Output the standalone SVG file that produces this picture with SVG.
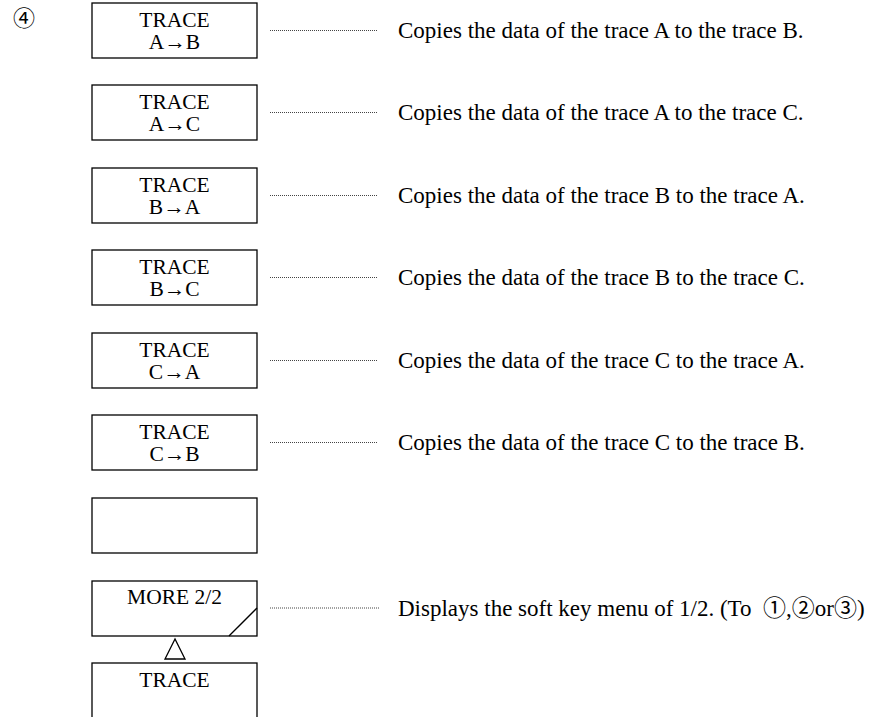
<svg xmlns="http://www.w3.org/2000/svg" width="869" height="717" viewBox="0 0 869 717">
<style>
.box{fill:#fff;stroke:#000;stroke-width:1.3}
.t{font-family:"Liberation Serif","Noto Sans CJK JP",serif;font-size:23px;fill:#000}
.k{font-family:"Liberation Serif","Noto Sans CJK JP",serif;font-size:21.5px;fill:#000;text-anchor:middle}
.dot{stroke:#444;stroke-width:1;stroke-dasharray:1 1;fill:none}
</style>
<rect width="869" height="717" fill="#fff"/>
<text id="label4" x="24" y="26" style="font-family:'Noto Sans CJK JP',sans-serif;font-size:22px;text-anchor:middle">④</text>
<g id="connectors">
<line class="dot" x1="270" y1="30.5" x2="378" y2="30.5"/>
<line class="dot" x1="270" y1="112.5" x2="378" y2="112.5"/>
<line class="dot" x1="270" y1="195.5" x2="378" y2="195.5"/>
<line class="dot" x1="270" y1="277.5" x2="378" y2="277.5"/>
<line class="dot" x1="270" y1="360.5" x2="378" y2="360.5"/>
<line class="dot" x1="270" y1="442.5" x2="378" y2="442.5"/>
<line class="dot" x1="270" y1="608" x2="380" y2="608"/>
</g>
<g id="key1"><rect class="box" x="92" y="3" width="165" height="55"/><text class="k" x="174.5" y="26.5">TRACE</text><text class="k" x="174.5" y="49">A→B</text></g>
<g id="key2"><rect class="box" x="92" y="85" width="165" height="55"/><text class="k" x="174.5" y="108.5">TRACE</text><text class="k" x="174.5" y="131">A→C</text></g>
<g id="key3"><rect class="box" x="92" y="168" width="165" height="55"/><text class="k" x="174.5" y="191.5">TRACE</text><text class="k" x="174.5" y="214">B→A</text></g>
<g id="key4"><rect class="box" x="92" y="250" width="165" height="55"/><text class="k" x="174.5" y="273.5">TRACE</text><text class="k" x="174.5" y="296">B→C</text></g>
<g id="key5"><rect class="box" x="92" y="333" width="165" height="55"/><text class="k" x="174.5" y="356.5">TRACE</text><text class="k" x="174.5" y="379">C→A</text></g>
<g id="key6"><rect class="box" x="92" y="415" width="165" height="55"/><text class="k" x="174.5" y="438.5">TRACE</text><text class="k" x="174.5" y="461">C→B</text></g>
<g id="key7"><rect class="box" x="92" y="498" width="165" height="55"/></g>
<g id="key8"><rect class="box" x="92" y="581" width="165" height="55"/><line x1="229" y1="636" x2="257" y2="608" stroke="#000" stroke-width="1.3"/><text class="k" x="174.5" y="604">MORE 2/2</text></g>
<g id="tri"><polygon points="175,639 165,659 185,659" fill="#fff" stroke="#000" stroke-width="1.3"/></g>
<g id="key9"><rect class="box" x="92" y="663" width="165" height="70"/><text class="k" x="174.5" y="687">TRACE</text></g>
<g id="descs">
<text class="t" x="398" y="38">Copies the data of the trace A to the trace B.</text>
<text class="t" x="398" y="120">Copies the data of the trace A to the trace C.</text>
<text class="t" x="398" y="203">Copies the data of the trace B to the trace A.</text>
<text class="t" x="398" y="285">Copies the data of the trace B to the trace C.</text>
<text class="t" x="398" y="368">Copies the data of the trace C to the trace A.</text>
<text class="t" x="398" y="450">Copies the data of the trace C to the trace B.</text>
<text class="t" x="398" y="616">Displays the soft key menu of 1/2. (To &#160;①,②or③)</text>
</g>
</svg>
